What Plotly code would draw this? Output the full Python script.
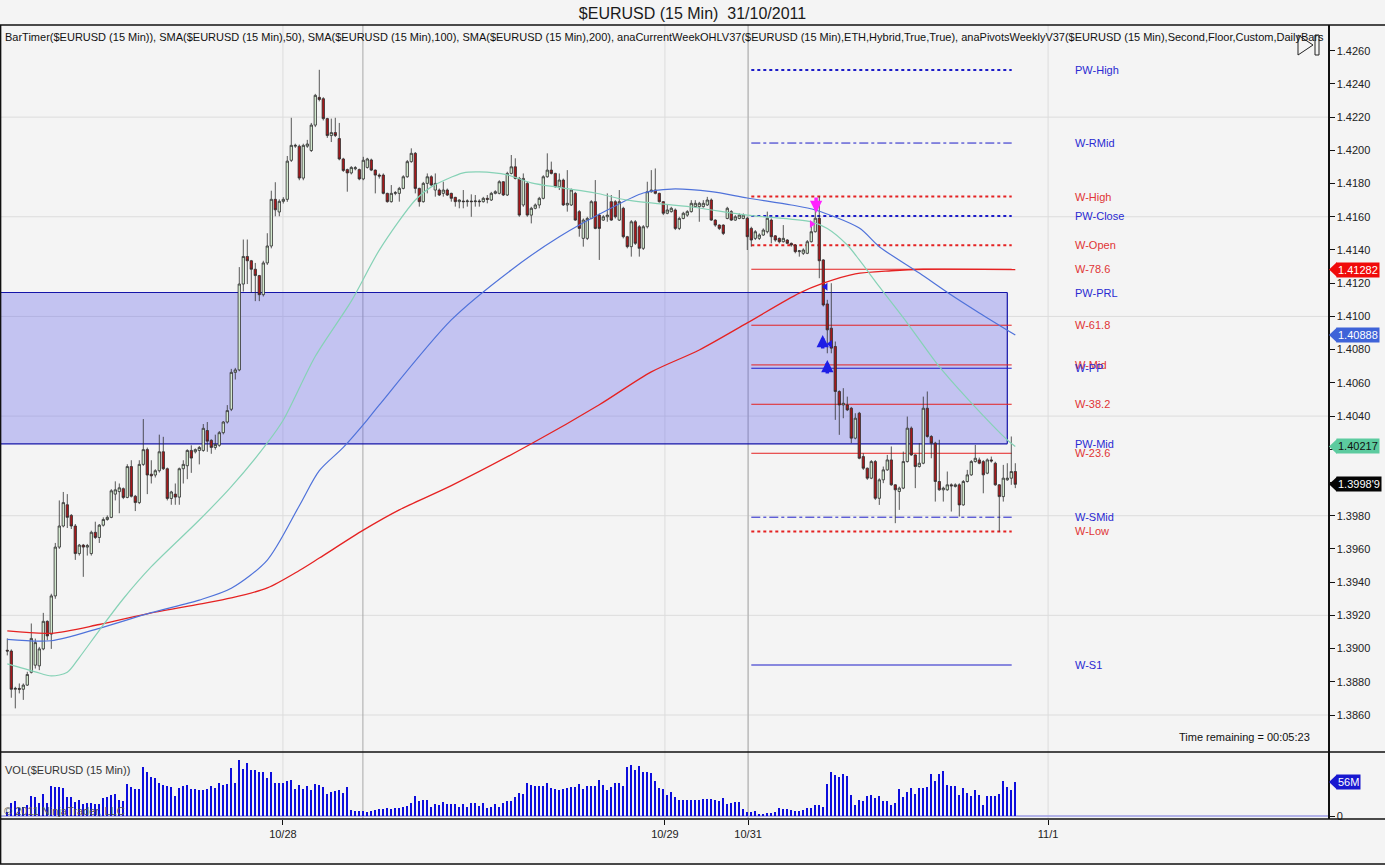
import plotly.graph_objects as go

# ---------------- data ----------------
opens = [1.38990,1.38985,1.38755,1.38760,1.38755,1.38780,1.38857,1.38900,1.38896,1.38998,
1.39164,1.39087,1.39317,1.39611,1.39738,1.39866,1.39802,1.39738,1.39572,1.39623,
1.39611,1.39572,1.39700,1.39669,1.39743,1.39777,1.39790,1.39930,1.39945,1.39963,
1.39910,1.40096,1.39917,1.39879,1.40109,1.40198,1.40050,1.40045,1.40071,1.40185,
1.40083,1.39904,1.39930,1.39912,1.40083,1.40101,1.40193,1.40185,1.40193,1.40193,
1.40313,1.40254,1.40211,1.40224,1.40300,1.40364,1.40441,1.40663,1.40678,1.41195,
1.41361,1.41335,1.41284,1.41246,1.41131,1.41322,1.41424,1.41705,1.41629,1.41693,
1.41705,1.41940,1.42025,1.42025,1.41833,1.42025,1.41999,1.42152,1.42319,1.42311,
1.42191,1.42089,1.42107,1.42071,1.41948,1.41884,1.41864,1.41889,1.41884,1.41828,
1.41897,1.41942,1.41881,1.41851,1.41851,1.41741,1.41691,1.41741,1.41741,1.41771,
1.41841,1.41932,1.41982,1.41771,1.41691,1.41801,1.41841,1.41761,1.41761,1.41741,
1.41761,1.41741,1.41717,1.41691,1.41695,1.41691,1.41695,1.41691,1.41695,1.41691,
1.41711,1.41701,1.41741,1.41741,1.41811,1.41731,1.41861,1.41901,1.41831,1.41671,
1.41801,1.41610,1.41651,1.41671,1.41711,1.41841,1.41881,1.41861,1.41781,1.41821,
1.41671,1.41671,1.41741,1.41631,1.41470,1.41470,1.41590,1.41691,1.41610,1.41580,
1.41600,1.41691,1.41691,1.41580,1.41651,1.41480,1.41420,1.41570,1.41540,1.41410,
1.41540,1.41751,1.41761,1.41741,1.41691,1.41621,1.41631,1.41641,1.41530,1.41590,
1.41610,1.41631,1.41661,1.41661,1.41661,1.41671,1.41701,1.41580,1.41550,1.41550,
1.41590,1.41631,1.41580,1.41590,1.41590,1.41591,1.41530,1.41470,1.41470,1.41490,
1.41510,1.41580,1.41485,1.41470,1.41450,1.41460,1.41440,1.41430,1.41390,1.41380,
1.41380,1.41450,1.41510,1.41591,1.41340,1.41075,1.40929,1.40819,1.40548,1.40467,
1.40467,1.40447,1.40267,1.40417,1.40156,1.40086,1.40026,1.40126,1.39905,1.40016,
1.40076,1.40136,1.39986,1.39946,1.39966,1.40126,1.40327,1.40166,1.40096,1.40116,
1.40447,1.40277,1.40237,1.40006,1.39956,1.39956,1.39986,1.39976,1.39986,1.39865,
1.40006,1.40046,1.40126,1.40136,1.40126,1.40056,1.40136,1.40116,1.39986,1.39915,
1.40016,1.40026,1.40066]

highs = [1.39061,1.38995,1.38770,1.38790,1.38790,1.38860,1.39151,1.39060,1.39010,1.39215,
1.39170,1.39330,1.39636,1.39892,1.39943,1.39930,1.39810,1.39750,1.39630,1.39630,
1.39630,1.39710,1.39764,1.39750,1.39790,1.39802,1.39960,1.40007,1.39994,1.39970,
1.40110,1.40134,1.39925,1.40134,1.40382,1.40210,1.40134,1.40080,1.40288,1.40275,
1.40090,1.39950,1.39994,1.40090,1.40134,1.40200,1.40224,1.40205,1.40220,1.40352,
1.40364,1.40260,1.40288,1.40310,1.40370,1.40466,1.40684,1.40690,1.41297,1.41463,
1.41463,1.41340,1.41322,1.41250,1.41335,1.41501,1.41757,1.41808,1.41705,1.41718,
1.41966,1.42196,1.42040,1.42035,1.42040,1.42063,1.42165,1.42340,1.42485,1.42320,
1.42196,1.42191,1.42196,1.42165,1.41955,1.41890,1.41905,1.41905,1.41890,1.41961,
1.41955,1.41950,1.41885,1.41861,1.41861,1.41745,1.41791,1.41755,1.41780,1.41850,
1.41942,1.42012,1.41990,1.41775,1.41810,1.41861,1.41850,1.41861,1.41770,1.41811,
1.41770,1.41745,1.41720,1.41705,1.41761,1.41705,1.41735,1.41731,1.41705,1.41720,
1.41731,1.41750,1.41760,1.41820,1.41815,1.41871,1.41972,1.41952,1.41840,1.41861,
1.41810,1.41660,1.41680,1.41720,1.41850,1.41982,1.41932,1.41865,1.41861,1.41830,
1.41881,1.41770,1.41750,1.41640,1.41590,1.41600,1.41700,1.41821,1.41620,1.41610,
1.41741,1.41731,1.41700,1.41761,1.41660,1.41485,1.41580,1.41580,1.41550,1.41550,
1.41811,1.41881,1.41891,1.41745,1.41695,1.41671,1.41660,1.41650,1.41600,1.41630,
1.41640,1.41700,1.41700,1.41690,1.41700,1.41720,1.41710,1.41585,1.41555,1.41555,
1.41660,1.41640,1.41610,1.41620,1.41620,1.41600,1.41540,1.41520,1.41500,1.41530,
1.41631,1.41590,1.41490,1.41475,1.41550,1.41465,1.41445,1.41435,1.41400,1.41410,
1.41460,1.41560,1.41650,1.41722,1.41345,1.41100,1.41200,1.40849,1.40555,1.40568,
1.40517,1.40455,1.40417,1.40425,1.40176,1.40090,1.40135,1.40135,1.40025,1.40096,
1.40166,1.40217,1.39990,1.39975,1.40186,1.40397,1.40337,1.40170,1.40237,1.40517,
1.40548,1.40285,1.40245,1.40257,1.39975,1.40066,1.39995,1.39995,1.39995,1.40015,
1.40076,1.40135,1.40226,1.40150,1.40135,1.40145,1.40156,1.40125,1.39990,1.40106,
1.40116,1.40277,1.40116]

lows = [1.38959,1.38704,1.38640,1.38730,1.38691,1.38775,1.38850,1.38880,1.38870,1.38990,
1.39050,1.38998,1.39300,1.39600,1.39730,1.39726,1.39720,1.39534,1.39560,1.39432,
1.39560,1.39560,1.39660,1.39636,1.39735,1.39770,1.39785,1.39892,1.39815,1.39900,
1.39905,1.39910,1.39828,1.39870,1.40100,1.39930,1.39994,1.40030,1.40060,1.40075,
1.39892,1.39866,1.39866,1.39866,1.39994,1.40020,1.40058,1.40175,1.40109,1.40185,
1.40185,1.40173,1.40198,1.40215,1.40290,1.40355,1.40430,1.40620,1.40670,1.41150,
1.41195,1.41143,1.41092,1.41092,1.41120,1.41310,1.41410,1.41603,1.41603,1.41680,
1.41690,1.41930,1.42015,1.41820,1.41820,1.42015,1.41990,1.42140,1.42295,1.42180,
1.42075,1.42050,1.42080,1.41940,1.41870,1.41751,1.41855,1.41880,1.41820,1.41820,
1.41890,1.41875,1.41741,1.41830,1.41735,1.41685,1.41685,1.41730,1.41691,1.41765,
1.41835,1.41925,1.41741,1.41661,1.41685,1.41741,1.41785,1.41721,1.41725,1.41721,
1.41725,1.41691,1.41661,1.41651,1.41651,1.41661,1.41600,1.41661,1.41661,1.41685,
1.41681,1.41695,1.41735,1.41735,1.41725,1.41725,1.41855,1.41825,1.41600,1.41660,
1.41600,1.41560,1.41645,1.41651,1.41705,1.41835,1.41855,1.41775,1.41761,1.41665,
1.41631,1.41665,1.41575,1.41480,1.41420,1.41460,1.41585,1.41525,1.41340,1.41575,
1.41570,1.41575,1.41590,1.41575,1.41470,1.41410,1.41360,1.41430,1.41360,1.41400,
1.41530,1.41745,1.41735,1.41685,1.41610,1.41615,1.41625,1.41520,1.41520,1.41585,
1.41600,1.41625,1.41655,1.41570,1.41655,1.41665,1.41575,1.41540,1.41520,1.41490,
1.41585,1.41575,1.41575,1.41585,1.41585,1.41400,1.41420,1.41460,1.41460,1.41485,
1.41500,1.41440,1.41450,1.41440,1.41445,1.41435,1.41420,1.41380,1.41360,1.41370,
1.41375,1.41445,1.41505,1.41230,1.41060,1.40778,1.40778,1.40377,1.40287,1.40387,
1.40430,1.40237,1.40260,1.40140,1.40076,1.40016,1.40020,1.39895,1.39865,1.39996,
1.40070,1.39980,1.39755,1.39835,1.39960,1.40120,1.40160,1.39966,1.40090,1.40110,
1.40270,1.40146,1.39885,1.39950,1.39885,1.39950,1.39825,1.39970,1.39795,1.39860,
1.40000,1.40040,1.40120,1.40110,1.39935,1.40050,1.40120,1.39980,1.39705,1.39885,
1.40010,1.39986,1.39966]

closes = [1.38985,1.38755,1.38760,1.38755,1.38780,1.38844,1.39061,1.39036,1.38998,1.39164,
1.39076,1.39317,1.39611,1.39738,1.39879,1.39790,1.39738,1.39572,1.39623,1.39611,
1.39620,1.39700,1.39669,1.39743,1.39777,1.39790,1.39950,1.39956,1.39968,1.39910,
1.40096,1.39917,1.39879,1.40109,1.40198,1.40045,1.40040,1.40071,1.40185,1.40083,
1.39904,1.39943,1.39912,1.40083,1.40109,1.40193,1.40147,1.40198,1.40211,1.40326,
1.40249,1.40211,1.40229,1.40300,1.40364,1.40433,1.40663,1.40678,1.41195,1.41361,
1.41335,1.41284,1.41246,1.41131,1.41322,1.41424,1.41705,1.41642,1.41693,1.41705,
1.41935,1.42030,1.42030,1.41833,1.42030,1.42038,1.42152,1.42331,1.42306,1.42191,
1.42089,1.42107,1.42089,1.41948,1.41879,1.41864,1.41897,1.41895,1.41828,1.41940,
1.41948,1.41881,1.41851,1.41845,1.41741,1.41691,1.41741,1.41745,1.41771,1.41841,
1.41932,1.41982,1.41771,1.41691,1.41801,1.41841,1.41791,1.41801,1.41731,1.41761,
1.41731,1.41711,1.41691,1.41701,1.41691,1.41695,1.41691,1.41695,1.41691,1.41711,
1.41705,1.41741,1.41751,1.41811,1.41731,1.41861,1.41901,1.41831,1.41610,1.41831,
1.41610,1.41651,1.41671,1.41711,1.41841,1.41881,1.41861,1.41781,1.41821,1.41671,
1.41681,1.41761,1.41580,1.41530,1.41580,1.41590,1.41691,1.41530,1.41530,1.41600,
1.41610,1.41580,1.41600,1.41691,1.41480,1.41420,1.41570,1.41440,1.41410,1.41540,
1.41751,1.41761,1.41741,1.41691,1.41621,1.41641,1.41651,1.41530,1.41590,1.41621,
1.41631,1.41681,1.41681,1.41681,1.41681,1.41701,1.41580,1.41550,1.41530,1.41500,
1.41651,1.41580,1.41600,1.41610,1.41610,1.41480,1.41460,1.41510,1.41490,1.41520,
1.41591,1.41480,1.41460,1.41450,1.41470,1.41440,1.41430,1.41390,1.41395,1.41400,
1.41450,1.41510,1.41591,1.41335,1.41069,1.40919,1.40809,1.40548,1.40467,1.40477,
1.40437,1.40267,1.40387,1.40146,1.40086,1.40026,1.40126,1.39905,1.40016,1.40076,
1.40136,1.39986,1.39956,1.39966,1.40126,1.40327,1.40166,1.40096,1.40116,1.40447,
1.40277,1.40237,1.40006,1.39956,1.39966,1.39986,1.39980,1.39986,1.39865,1.40006,
1.40046,1.40126,1.40146,1.40116,1.40046,1.40136,1.40130,1.39986,1.39915,1.40026,
1.40026,1.40066,1.39989]

volumes_m = [7,21,25,13,15,18,33,32,21,36, 21,49,47,47,46,31,31,23,26,20,
22,21,20,20,29,32,35,37,26,24, 53,47,44,44,81,72,65,63,54,51,
49,48,33,46,49,51,44,44,43,43, 44,49,46,55,51,53,79,54,92,77,
88,75,75,73,73,62,73,54,54,54, 58,60,44,51,44,49,43,53,51,48,
36,40,42,43,38,47,10,8,9,8, 7,9,10,11,12,13,12,14,14,15,
16,21,33,24,27,26,15,20,18,23, 20,20,20,15,20,15,21,21,16,22,
14,15,20,15,22,24,25,31,38,37, 54,51,49,49,49,55,46,44,43,44,
46,48,48,53,44,49,49,49,60,51, 43,48,55,54,49,81,84,76,82,73,
72,71,57,46,44,35,40,31,26,27, 27,
26,26,27,28,28,28,26,25,30,20, 22,23,23,11,7,7,9,4,4,5,
5,7,13,12,12,10,9,9,10,13, 13,18,18,15,53,72,67,65,69,66,
35,18,26,25,33,35,29,33,25,24, 18,22,44,32,40,46,37,46,46,48,
70,57,70,74,51,49,49,35,46,38, 33,43,35,18,33,33,33,37,57,47,
43,56]

# moving averages (bar index, value)
sma50_bars = [0,7,11,15,18,23,29,36,48,56,65,69,77,86,93,102,106,114,118,125,131,139,147,155,171,185,201,205,210,213,218,225,233,241,250,252]
sma50_vals = [1.38908,1.38860,1.38835,1.38857,1.38946,1.39110,1.39300,1.39493,1.39774,1.39975,1.40238,1.40376,1.40760,1.41092,1.41399,1.41701,1.41780,1.41864,1.41870,1.41852,1.41804,1.41773,1.41743,1.41700,1.41659,1.41610,1.41569,1.41530,1.41430,1.41340,1.41179,1.40960,1.40697,1.40479,1.40256,1.40217]
sma100_bars = [0,11,23,36,48,56,65,73,78,84,90,93,111,126,138,151,159,166,176,185,196,202,213,218,228,236,243,252]
sma100_vals = [1.39055,1.39047,1.39122,1.39216,1.39292,1.39363,1.39533,1.39860,1.40071,1.40211,1.40377,1.40467,1.40979,1.41280,1.41480,1.41653,1.41743,1.41767,1.41751,1.41713,1.41671,1.41641,1.41532,1.41420,1.41261,1.41129,1.41021,1.40888]
sma200_bars = [0,11,23,36,48,56,65,73,78,89,98,111,131,148,161,173,185,198,204,212,221,229,252]
sma200_vals = [1.39106,1.39092,1.39145,1.39215,1.39268,1.39305,1.39365,1.39470,1.39545,1.39713,1.39835,1.39981,1.40233,1.40468,1.40666,1.40798,1.40961,1.41140,1.41200,1.41256,1.41275,1.41284,1.41282]

# weekly / previous-week levels
level_names  = ["PW-High","W-RMid","W-High","PW-Close","W-Open","W-78.6","W-61.8","W-Mid","W-PP","W-38.2","W-23.6","W-SMid","W-Low","W-S1"]
level_values = [1.42484, 1.42044, 1.41722, 1.41605, 1.41429, 1.41284, 1.40947, 1.40708, 1.40688, 1.40471, 1.40176, 1.39791, 1.39705, 1.38901]
level_kind   = ["b","b","r","b","r","r","r","r","b","r","r","b","r","b"]
level_dash   = ["dot","dashdot","dot","dot","dot","solid","solid","solid","solid","solid","solid","dashdot","dot","solid"]
box_names  = ["PW-PRL", "PW-Mid"]
box_values = [1.41144, 1.40233]

date_labels = ["10/28", "10/29", "10/31", "11/1"]
date_bars = [68.9, 164.4, 185.2, 260.2]
session_break_bars = [88.9, 185.2]
week_start_bar = 186

# strategy marks (bar index, price)
magenta_down_bar, magenta_down_price = [202.2], [1.41623]
magenta_tri_bar, magenta_tri_price = [201.1], [1.41557]
blue_up_bars, blue_up_prices = [203.85, 205.0], [1.40888, 1.40738]
blue_tri_bars, blue_tri_prices = [204.6, 205.7], [1.41179, 1.40834]

# ---------------- layout geometry ----------------
W, H = 1385, 865
ML, MR, MT, MB = 1, 57, 25, 46
PWID = W - ML - MR
PHGT = H - MT - MB
def fx(px):
    return (px - ML) / PWID
def fy(py):
    return (H - MB - py) / PHGT

P_REF_HI, P_PX_HI = 1.4260, 50.7
P_REF_LO, P_PX_LO = 1.3860, 715.0
ppu = (P_PX_LO - P_PX_HI) / (P_REF_HI - P_REF_LO)
PANEL_SPLIT = 752
price_range = [P_REF_LO - (PANEL_SPLIT - P_PX_LO) / ppu, P_REF_HI + (P_PX_HI - MT) / ppu]
VOL0_PX = 816
ppm = 34 / 56.0
vol_range = [-(H - MB - VOL0_PX) / ppm, (VOL0_PX - PANEL_SPLIT) / ppm]
BAR0_PX, BAR_W = 7.3, 4.0
x_range = [(ML - BAR0_PX) / BAR_W, (W - MR - BAR0_PX) / BAR_W]
split = fy(PANEL_SPLIT)

FONT = "Liberation Sans, Arial, sans-serif"
BLUE_T, RED_T = "#2A2AD2", "#E03535"
BLUE_L, RED_L = "#1C1CC8", "#E42222"
n = len(closes)
idx = list(range(n))

fig = go.Figure()

# moving averages
fig.add_trace(go.Scatter(x=sma200_bars, y=sma200_vals, mode="lines",
                         line=dict(color="#E52222", width=1.3, shape="spline", smoothing=0.8),
                         hoverinfo="skip", showlegend=False))
fig.add_trace(go.Scatter(x=sma100_bars, y=sma100_vals, mode="lines",
                         line=dict(color="#4F72DA", width=1.2, shape="spline", smoothing=0.8),
                         hoverinfo="skip", showlegend=False))
fig.add_trace(go.Scatter(x=sma50_bars, y=sma50_vals, mode="lines",
                         line=dict(color="#86D2B6", width=1.2, shape="spline", smoothing=0.8),
                         hoverinfo="skip", showlegend=False))

# candles
fig.add_trace(go.Candlestick(x=idx, open=opens, high=highs, low=lows, close=closes,
                             increasing=dict(line=dict(color="#303030", width=0.8), fillcolor="#D6ECD2"),
                             decreasing=dict(line=dict(color="#303030", width=0.8), fillcolor="#A8181B"),
                             whiskerwidth=0, showlegend=False, hoverinfo="skip"))

# strategy markers
fig.add_trace(go.Scatter(x=magenta_tri_bar, y=magenta_tri_price, mode="markers",
                         marker=dict(symbol="triangle-right", size=7, color="#FF22FF"),
                         showlegend=False, hoverinfo="skip"))
fig.add_trace(go.Scatter(x=blue_tri_bars, y=blue_tri_prices, mode="markers",
                         marker=dict(symbol="triangle-left", size=7, color="#1E1EE6"),
                         showlegend=False, hoverinfo="skip"))

# volume
fig.add_trace(go.Bar(x=idx, y=volumes_m, xaxis="x2", yaxis="y2", width=0.5,
                     marker=dict(color="#0D0DDC", line=dict(width=0)),
                     showlegend=False, hoverinfo="skip"))

shapes = []
annotations = []

# horizontal grid lines
g = P_REF_LO
while g < price_range[1]:
    shapes.append(dict(type="line", xref="paper", yref="y", x0=0, x1=1, y0=g, y1=g,
                       line=dict(color="#DCDCDC", width=1), layer="below"))
    g = round(g + 0.006, 4)
# vertical grid lines at date ticks and session breaks
for b in date_bars:
    shapes.append(dict(type="line", xref="x", yref="paper", x0=b, x1=b, y0=0, y1=1,
                       line=dict(color="#DCDCDC", width=1), layer="below"))
for b in session_break_bars:
    shapes.append(dict(type="line", xref="x", yref="paper", x0=b, x1=b, y0=0, y1=1,
                       line=dict(color="#A8A8A8", width=1), layer="below"))

# previous-week range box
box_right = idx[-1] - 2
shapes.append(dict(type="rect", xref="x", yref="y", x0=x_range[0], x1=box_right,
                   y0=box_values[1], y1=box_values[0],
                   fillcolor="rgba(92,92,236,0.32)", line=dict(width=0), layer="below"))
for v in box_values:
    shapes.append(dict(type="line", xref="x", yref="y", x0=x_range[0], x1=box_right, y0=v, y1=v,
                       line=dict(color="#1414A8", width=1.2), layer="below"))
shapes.append(dict(type="line", xref="x", yref="y", x0=box_right, x1=box_right,
                   y0=box_values[1], y1=box_values[0], line=dict(color="#1414A8", width=1.2), layer="below"))

# weekly level lines
line_end = idx[-1] - 0.9
for v, k, d in zip(level_values, level_kind, level_dash):
    col = BLUE_L if k == "b" else RED_L
    wdt = 2 if d == "dot" else 1
    shapes.append(dict(type="line", xref="x", yref="y", x0=week_start_bar, x1=line_end, y0=v, y1=v,
                       line=dict(color=col, width=wdt, dash=d), layer="below"))

LABEL_X = (1073 - BAR0_PX) / BAR_W
all_names = level_names + box_names
all_vals = level_values + box_values
all_kind = level_kind + ["b", "b"]
for nm, v, k in zip(all_names, all_vals, all_kind):
    annotations.append(dict(x=LABEL_X, y=v, xref="x", yref="y", text=nm, showarrow=False,
                            xanchor="left", yanchor="middle",
                            font=dict(family=FONT, size=11, color=BLUE_T if k == "b" else RED_T)))

# magenta / blue arrows
for b, p in zip(magenta_down_bar, magenta_down_price):
    annotations.append(dict(x=b, y=p, xref="x", yref="y", text="", showarrow=True, arrowhead=2,
                            arrowsize=0.7, arrowwidth=3.5, arrowcolor="#FF22FF", ax=0, ay=-17))
for b, p in zip(blue_up_bars, blue_up_prices):
    annotations.append(dict(x=b, y=p, xref="x", yref="y", text="", showarrow=True, arrowhead=2,
                            arrowsize=0.7, arrowwidth=3.5, arrowcolor="#1E1EE6", ax=0, ay=15))

# right-hand value tags
def tag(val, text, bg, fg, yref, half):
    shapes.append(dict(type="path", xref="paper", yref=yref,
                       path=f"M {fx(1329)},{val} L {fx(1337)},{val + half} L {fx(1337)},{val - half} Z",
                       fillcolor=bg, line=dict(width=0), layer="above"))
    annotations.append(dict(x=fx(1336), y=val, xref="paper", yref=yref, text=text, showarrow=False,
                            xanchor="left", yanchor="middle", bgcolor=bg, borderpad=1,
                            font=dict(family=FONT, size=11, color=fg)))

hp = 7.5 / ppu
tag(sma200_vals[-1], f"{sma200_vals[-1]:.5f}", "#F00A0A", "white", "y", hp)
tag(sma100_vals[-1], f"{sma100_vals[-1]:.5f}", "#3E63D8", "white", "y", hp)
tag(sma50_vals[-1], f"{sma50_vals[-1]:.5f}", "#5CCB9F", "#111111", "y", hp)
cs = f"{closes[-1]:.5f}"
tag(closes[-1], cs[:-1] + "'" + cs[-1], "#050505", "white", "y", hp)
tag(volumes_m[-1], f"{volumes_m[-1]:.0f}M", "#1818D0", "white", "y2", 7.5 / ppm)

# frame lines
for py in (MT, PANEL_SPLIT, H - MB, 864):
    shapes.append(dict(type="line", xref="paper", yref="paper", x0=fx(0), x1=fx(W), y0=fy(py), y1=fy(py),
                       line=dict(color="#101010", width=1.5), layer="above"))
shapes.append(dict(type="line", xref="paper", yref="paper", x0=fx(0.6), x1=fx(0.6), y0=fy(864), y1=fy(MT),
                   line=dict(color="#101010", width=1.5), layer="above"))

# skip-to-end icon
shapes.append(dict(type="path", xref="paper", yref="paper",
                   path=f"M {fx(1298)},{fy(35)} L {fx(1298)},{fy(55)} L {fx(1313)},{fy(45)} Z",
                   fillcolor="#F4F4F4", line=dict(color="#222222", width=1), layer="above"))
shapes.append(dict(type="rect", xref="paper", yref="paper", x0=fx(1315), x1=fx(1319), y0=fy(55), y1=fy(35),
                   fillcolor="#F4F4F4", line=dict(color="#222222", width=1), layer="above"))

# texts
annotations.append(dict(x=fx(3), y=fy(37), xref="paper", yref="paper", xanchor="left", yanchor="middle",
                        showarrow=False,
                        text="BarTimer($EURUSD (15 Min)), SMA($EURUSD (15 Min),50), SMA($EURUSD (15 Min),100), "
                             "SMA($EURUSD (15 Min),200), anaCurrentWeekOHLV37($EURUSD (15 Min),ETH,Hybrid,True,True), "
                             "anaPivotsWeeklyV37($EURUSD (15 Min),Second,Floor,Custom,DailyBars",
                        font=dict(family=FONT, size=11, color="#111111")))
annotations.append(dict(x=fx(1312), y=fy(737), xref="paper", yref="paper", xanchor="right", yanchor="middle",
                        showarrow=False, text="Time remaining = 00:05:23",
                        font=dict(family=FONT, size=11, color="#111111")))
annotations.append(dict(x=fx(3), y=fy(770), xref="paper", yref="paper", xanchor="left", yanchor="middle",
                        showarrow=False, text="VOL($EURUSD (15 Min))",
                        font=dict(family=FONT, size=11, color="#333333")))
annotations.append(dict(x=fx(2), y=fy(811), xref="paper", yref="paper", xanchor="left", yanchor="middle",
                        showarrow=False, text="© 2011 NinjaTrader, LLC",
                        font=dict(family=FONT, size=11, color="#555555")))

# volume zero line
shapes.append(dict(type="line", xref="paper", yref="y2", x0=0, x1=1, y0=0, y1=0,
                   line=dict(color="#9C9CE4", width=1.5), layer="below"))

price_ticks = []
t = P_REF_LO
while t <= P_REF_HI + 1e-9:
    price_ticks.append(round(t, 4))
    t += 0.002

fig.update_layout(
    width=W, height=H,
    margin=dict(l=ML, r=MR, t=MT, b=MB, pad=0),
    paper_bgcolor="#F4F4F4", plot_bgcolor="#F4F4F4",
    title=dict(text="$EURUSD (15 Min)  31/10/2011", x=0.5, xanchor="center", xref="container",
               y=1 - 13 / H, yanchor="middle", yref="container",
               font=dict(family=FONT, size=16, color="#1A1A1A")),
    showlegend=False,
    bargap=0,
    boxgap=0.15,
    xaxis=dict(domain=[0, 1], range=x_range, anchor="y", showticklabels=False, showgrid=False,
               zeroline=False, rangeslider=dict(visible=False), ticks=""),
    xaxis2=dict(domain=[0, 1], range=x_range, anchor="y2", matches="x", showgrid=False, zeroline=False,
                tickmode="array", tickvals=date_bars, ticktext=date_labels, ticks="outside",
                ticklen=5, tickcolor="#111111",
                tickfont=dict(family=FONT, size=11, color="#222222")),
    yaxis=dict(domain=[split, 1], range=price_range, side="right", showgrid=False, zeroline=False,
               tickmode="array", tickvals=price_ticks, ticktext=[f"{v:.4f}" for v in price_ticks],
               ticks="outside", ticklen=5, tickcolor="#111111", showline=True, linecolor="#111111",
               linewidth=1.5, tickfont=dict(family=FONT, size=11, color="#222222")),
    yaxis2=dict(domain=[0, split], range=vol_range, side="right", showgrid=False, zeroline=False,
                tickmode="array", tickvals=[0], ticktext=["0"], ticks="outside", ticklen=5,
                tickcolor="#111111", showline=True, linecolor="#111111", linewidth=1.5,
                tickfont=dict(family=FONT, size=11, color="#222222")),
    shapes=shapes,
    annotations=annotations,
)

fig.write_html("out.html", config={"displayModeBar": False, "staticPlot": True})
# remove the browser's default page margin so the figure sits at the window's top-left corner
with open("out.html", "r", encoding="utf-8") as fh:
    page = fh.read()
page = page.replace("<head>", "<head><style>html,body{margin:0;padding:0;overflow:hidden;}</style>", 1)
with open("out.html", "w", encoding="utf-8") as fh:
    fh.write(page)
